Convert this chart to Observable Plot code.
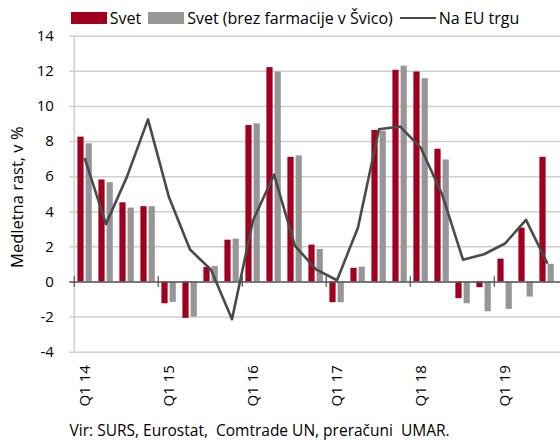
<!DOCTYPE html>
<html><head><meta charset="utf-8">
<script src="https://cdn.jsdelivr.net/npm/d3@7"></script>
<script src="https://cdn.jsdelivr.net/npm/@observablehq/plot@0.6"></script>
<style>
body{margin:0;background:#fff;font-family:"Open Sans",sans-serif;color:#000;}
#wrap{position:relative;width:560px;height:440px;overflow:hidden;}
.legend{height:28px;display:flex;align-items:flex-end;padding-left:70.7px;font-size:16px;line-height:20px;box-sizing:border-box;padding-bottom:0px;}
.item{display:flex;align-items:center;margin-right:7px;}
.sw{width:36px;height:12px;margin-right:3px;}
.ln{width:36px;height:2.5px;margin-right:3px;}
.caption{margin-top:12px;padding-left:69.6px;font-size:15.5px;white-space:pre;line-height:20px;}
svg{display:block;}
</style></head><body>
<div id="wrap">
  <div class="legend" id="legend"></div>
  <div id="chart"></div>
  <div class="caption">Vir: SURS, Eurostat,  Comtrade UN, preračuni  UMAR.</div>
</div>
<script>
const quarters = ["Q1 14","Q2 14","Q3 14","Q4 14","Q1 15","Q2 15","Q3 15","Q4 15","Q1 16","Q2 16","Q3 16","Q4 16","Q1 17","Q2 17","Q3 17","Q4 17","Q1 18","Q2 18","Q3 18","Q4 18","Q1 19","Q2 19","Q3 19"];
const svet = [8.25, 5.81, 4.51, 4.29, -1.24, -2.07, 0.82, 2.38, 8.91, 12.21, 7.1, 2.1, -1.18, 0.78, 8.63, 12.06, 11.96, 7.56, -0.95, -0.32, 1.3, 3.07, 7.1];
const svetBrez = [7.87, 5.66, 4.21, 4.29, -1.16, -2.0, 0.88, 2.44, 9.01, 11.96, 7.18, 1.85, -1.18, 0.85, 8.59, 12.29, 11.58, 6.95, -1.24, -1.7, -1.56, -0.86, 1.01];
const naEU = [7.0, 3.3, 6.0, 9.26, 4.82, 1.85, 0.7, -2.12, 3.5, 6.11, 2.06, 0.72, 0.1, 3.1, 8.7, 8.86, 7.62, 5.0, 1.27, 1.58, 2.19, 3.54, 1.1];
const xTickLabels = ["Q1 14","Q1 15","Q1 16","Q1 17","Q1 18","Q1 19"];
const yTicks = [-4,-2,0,2,4,6,8,10,12,14];
const seriesNames = ["Svet","Svet (brez farmacije v Švico)","Na EU trgu"];
const colors = ["#a0001e","#969696","#4a4a4a"];

const data = quarters.map((q,i)=>({q, svet: svet[i], brez: svetBrez[i], eu: naEU[i]}));

// legend
const lg = document.getElementById("legend");
seriesNames.forEach((name,i)=>{
  const it = document.createElement("div"); it.className="item";
  const sw = document.createElement("div"); sw.className = i<2 ? "sw" : "ln"; sw.style.background = colors[i];
  const tx = document.createElement("span"); tx.textContent = name;
  it.append(sw, tx); lg.append(it);
});

const W = 560, ML = 69.3, MR = -1.5;
const bw = (W - ML - MR) / quarters.length;

const chart = Plot.plot({
  width: W, height: 380,
  marginTop: 7.7, marginBottom: 56.3, marginLeft: ML, marginRight: MR,
  style: {fontFamily: "Open Sans", fontSize: "15px", color: "#000", background: "transparent", overflow: "visible"},
  x: {type: "band", domain: quarters, padding: 0},
  y: {domain: [-4, 14]},
  marks: [
    Plot.ruleY(yTicks, {stroke: "#cfcfcf", strokeWidth: 1.5}),
    Plot.ruleX([quarters[0]], {x: d=>d, dx: -bw/2, stroke: "#cfcfcf", strokeWidth: 1.5}),
    Plot.barY(data, {x: "q", y: "svet", fill: colors[0], insetLeft: 3.4, insetRight: 11.4}),
    Plot.barY(data, {x: "q", y: "brez", fill: colors[1], insetLeft: 11.6, insetRight: 3.2}),
    Plot.ruleY([0], {stroke: "#595959", strokeWidth: 1.6}),
    Plot.ruleX(xTickLabels, {x: d=>d, dx: -bw/2, y1: -0.3, y2: 0.3, stroke: "#595959", strokeWidth: 1.3}),
    Plot.lineY(data, {x: "q", y: "eu", stroke: colors[2], strokeWidth: 2.6}),
    Plot.axisY({ticks: yTicks, tickFormat: d => String(d), tickSize: 0, tickPadding: 16, fontSize: 15, label: null}),
    Plot.axisX({ticks: xTickLabels, tickSize: 0, tickPadding: 13, tickRotate: -90, fontSize: 15, label: null}),
    Plot.text(["Medletna rast, v %"], {frameAnchor: "left", textAnchor: "middle", dx: -52, dy: 3, rotate: -90, fontSize: 16.5})
  ]
});
document.getElementById("chart").append(chart);
</script>
</body></html>
